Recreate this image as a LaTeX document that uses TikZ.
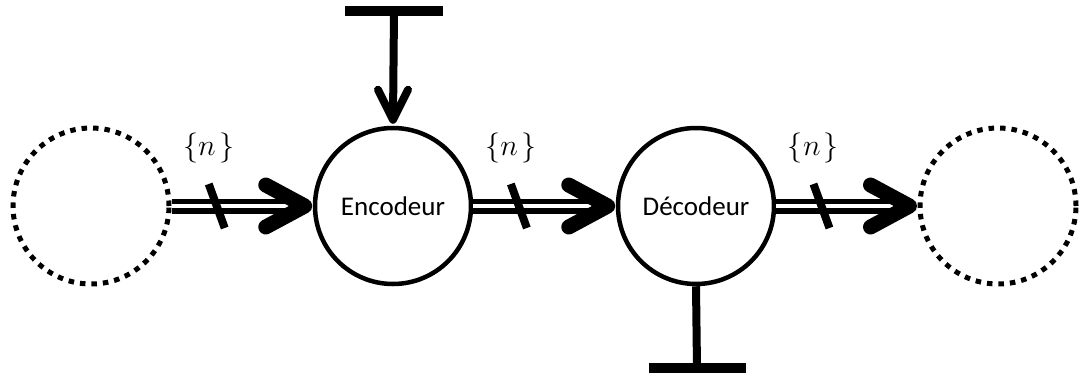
\documentclass[tikz,border=0pt]{standalone}
\usepackage{graphicx}
\usepackage{fontspec}
\newfontfamily\carlito{Carlito}
\usetikzlibrary{calc}
\tikzset{
  block/.style={circle, draw=black, line width=4.5pt, minimum size=156pt, inner sep=0pt,
    font=\carlito\fontsize{27}{32}\selectfont},
  ghost/.style={circle, draw=black, line width=5pt, dash pattern=on 5.5pt off 6pt,
    minimum size=156pt, inner sep=0pt},
  dbl/.style={draw=black, line width=5.5pt, double=white, double distance=4pt},
  chev/.style={draw=black, line width=15pt, line cap=round, line join=round},
  smallchev/.style={draw=black, line width=8pt, line cap=round, line join=round},
  slashmark/.style={draw=black, line width=8pt},
  stem/.style={draw=black, line width=8pt},
  tbar/.style={draw=black, line width=9.5pt},
  lbl/.style={font=\fontsize{20.74}{24}\selectfont, inner sep=0pt},
}
\newcommand{\setlbl}{\scalebox{1.45}{$\{n\mkern2mu\}$}}
\begin{document}
\begin{tikzpicture}[x=1pt, y=-1pt]
\useasboundingbox (0,0) rectangle (1081,378);
% nodes
\node[ghost] (src) at (91,206) {};
\node[block] (enc) at (393,206) {Encodeur};
\node[block] (dec) at (696,206) {D\'ecodeur};
\node[ghost] (dst) at (998,206) {};
% double connectors
\foreach \a/\b/\i in {src/enc/1, enc/dec/2, dec/dst/3}{
  \draw[dbl] (\a.east) -- ($(\b.west)+(-25,0)$);
  \draw[chev] ($(\b.west)+(-47,-21)$) -- ($(\b.west)+(-8,0)$) -- ($(\b.west)+(-47,21)$);
  \coordinate (s\i) at ($(\a.east)!0.32!(\b.west)$);
  \draw[slashmark] ($(s\i)+(-8,-22)$) -- ($(s\i)+(8,22)$);
  \node[lbl] (n\i) at ($(s\i)+(-8,-58)$) {\setlbl};
}
% top T into encoder
\coordinate (topbar) at (394,11);
\draw[tbar] ($(topbar)+(-49,0)$) -- ($(topbar)+(49,0)$);
\draw[stem] (topbar) -- ($(enc.north)+(0,-6)$);
\draw[smallchev] ($(enc.north)+(-15,-36)$) -- ($(enc.north)+(0,-6)$) -- ($(enc.north)+(15,-36)$);
% bottom T out of decoder
\coordinate (botbar) at (697,368);
\draw[stem] (dec.south) -- (botbar);
\draw[tbar] ($(botbar)+(-48.5,0)$) -- ($(botbar)+(48.5,0)$);
\end{tikzpicture}
\end{document}
